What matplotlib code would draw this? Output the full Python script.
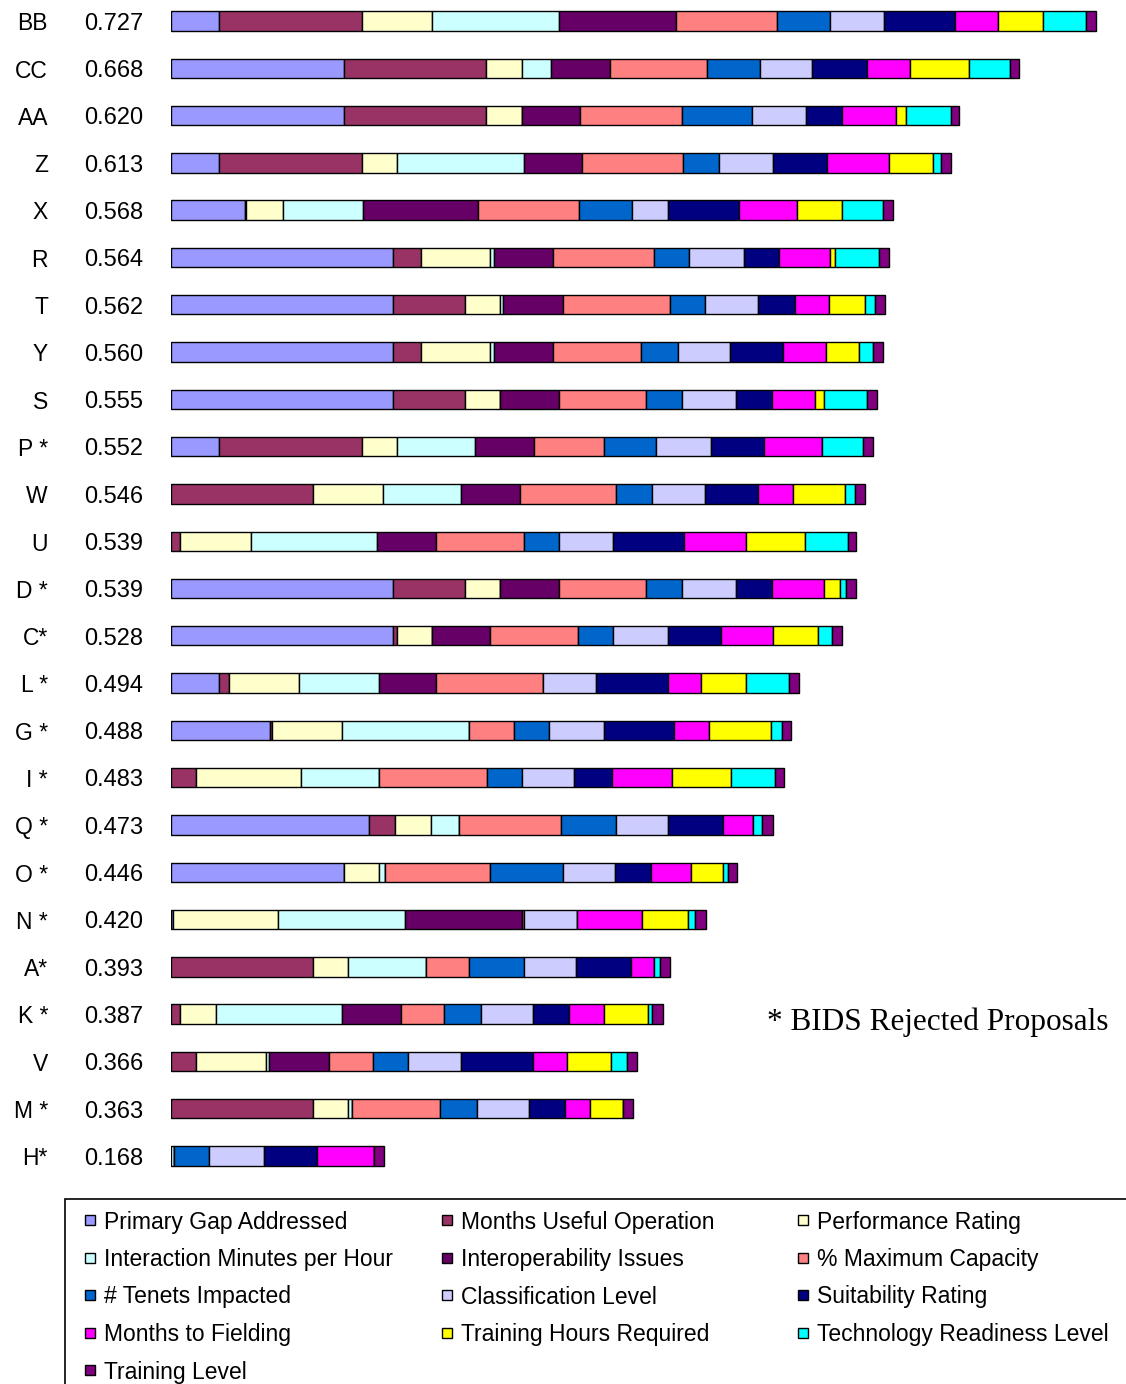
import matplotlib
matplotlib.use("Agg")
import matplotlib.pyplot as plt
import matplotlib.patches as mpatches
import matplotlib.transforms as mtransforms
import numpy as np

plt.rcParams['font.family'] = ['Liberation Sans', 'DejaVu Sans']

# proposals, top to bottom, with their overall scores
names = ["BB", "CC", "AA", "Z", "X", "R", "T", "Y", "S", "P *", "W", "U", "D *", "C*",
         "L *", "G *", "I *", "Q *", "O *", "N *", "A*", "K *", "V", "M *", "H*"]
totals = [0.727, 0.668, 0.620, 0.613, 0.568, 0.564, 0.562, 0.560, 0.555, 0.552, 0.546, 0.539,
          0.539, 0.528, 0.494, 0.488, 0.483, 0.473, 0.446, 0.420, 0.393, 0.387, 0.366, 0.363, 0.168]

# weighted contribution of each criterion
primary_gap = [0.038, 0.136, 0.136, 0.038, 0.058, 0.1748, 0.1748, 0.1748, 0.1748, 0.038, 0, 0, 0.1748,
               0.1748, 0.038, 0.0778, 0, 0.1559, 0.136, 0.0018, 0, 0, 0, 0, 0]
months_useful = [0.112, 0.112, 0.112, 0.112, 0.0008, 0.0215, 0.0564, 0.0215, 0.0564, 0.112, 0.1119, 0.0073,
                 0.0564, 0.0027, 0.0076, 0.0018, 0.0197, 0.0202, 0, 0, 0.1119, 0.0073, 0.0197, 0.1119, 0]
perf_rating = [0.0555, 0.0278, 0.0278, 0.0275, 0.0289, 0.0547, 0.0275, 0.0547, 0.0275, 0.0275, 0.055, 0.0553,
               0.0275, 0.0275, 0.0553, 0.0546, 0.0825, 0.0281, 0.0275, 0.0825, 0.0275, 0.0278, 0.055, 0.0275, 0]
interaction = [0.0996, 0.023, 0, 0.1001, 0.0629, 0.0027, 0.0026, 0.0027, 0, 0.0616, 0.0611, 0.0995, 0, 0,
               0.0627, 0.1001, 0.0613, 0.0225, 0.0047, 0.0996, 0.0611, 0.0991, 0.0026, 0.0027, 0.0024]
interop = [0.0917, 0.0461, 0.0461, 0.0458, 0.0906, 0.0469, 0.0467, 0.0469, 0.0464, 0.0464, 0.0464, 0.0459,
           0.0464, 0.0458, 0.0446, 0, 0, 0, 0, 0.0922, 0, 0.0466, 0.0469, 0, 0]
max_capacity = [0.0794, 0.0763, 0.0797, 0.0794, 0.0796, 0.0794, 0.0844, 0.0687, 0.0684, 0.0548, 0.0752, 0.0694,
                0.0684, 0.0694, 0.0846, 0.0354, 0.0847, 0.08, 0.0825, 0.0013, 0.0338, 0.0336, 0.0348, 0.0694, 0]
tenets = [0.0419, 0.0419, 0.055, 0.0278, 0.042, 0.0275, 0.0275, 0.0291, 0.0281, 0.0411, 0.0288, 0.0275,
          0.0281, 0.0275, 0, 0.0275, 0.0275, 0.043, 0.0572, 0, 0.0432, 0.0293, 0.0275, 0.0289, 0.0275]
classification = [0.0427, 0.0411, 0.0427, 0.0429, 0.0283, 0.043, 0.0414, 0.0411, 0.0427, 0.043, 0.0414, 0.0427,
                  0.0427, 0.0428, 0.0414, 0.043, 0.0414, 0.0414, 0.0411, 0.0417, 0.0409, 0.0411, 0.0414, 0.0411, 0.043]
suitability = [0.0553, 0.0432, 0.0281, 0.042, 0.0558, 0.0275, 0.0291, 0.0419, 0.0281, 0.0419, 0.0419, 0.0556,
               0.0281, 0.0419, 0.0568, 0.0555, 0.0294, 0.0428, 0.0281, 0, 0.0432, 0.0283, 0.0568, 0.0283, 0.0419]
months_fielding = [0.0338, 0.0336, 0.0427, 0.0487, 0.0456, 0.0401, 0.0267, 0.0336, 0.0335, 0.0458, 0.027, 0.049,
                   0.0411, 0.0411, 0.0257, 0.0273, 0.0472, 0.0233, 0.0317, 0.0513, 0.0181, 0.027, 0.0263, 0.0197, 0.045]
training_hours = [0.0354, 0.0461, 0.0079, 0.0351, 0.0354, 0.0042, 0.0285, 0.0262, 0.0074, 0, 0.0414, 0.0459,
                  0.0126, 0.0354, 0.0354, 0.049, 0.0464, 0, 0.0249, 0.0357, 0, 0.0351, 0.0348, 0.0262, 0]
trl = [0.0338, 0.0322, 0.0351, 0.0058, 0.0322, 0.0341, 0.0079, 0.0105, 0.034, 0.0322, 0.0079, 0.0338,
       0.0045, 0.011, 0.0338, 0.0082, 0.0351, 0.0076, 0.0044, 0.006, 0.0047, 0.0031, 0.0126, 0, 0]
training_level = [0.0079, 0.0075, 0.0065, 0.0079, 0.0079, 0.0081, 0.0079, 0.0081, 0.0079, 0.0079, 0.0079, 0.0065,
                  0.0081, 0.0079, 0.0081, 0.0075, 0.0066, 0.0081, 0.0066, 0.0082, 0.0079, 0.0082, 0.0079, 0.0075, 0.0079]

criteria = ["Primary Gap Addressed", "Months Useful Operation", "Performance Rating",
            "Interaction Minutes per Hour", "Interoperability Issues", "% Maximum Capacity",
            "# Tenets Impacted", "Classification Level", "Suitability Rating",
            "Months to Fielding", "Training Hours Required", "Technology Readiness Level",
            "Training Level"]
series = [primary_gap, months_useful, perf_rating, interaction, interop, max_capacity, tenets,
          classification, suitability, months_fielding, training_hours, trl, training_level]
colors = ['#9999FF', '#993366', '#FFFFCC', '#CCFFFF', '#660066', '#FF8080', '#0066CC',
          '#CCCCFF', '#000080', '#FF00FF', '#FFFF00', '#00FFFF', '#800080']

W, H = 1126, 1384
fig = plt.figure(figsize=(W / 100, H / 100), dpi=100)
fx = lambda px: px / W
fy = lambda py: 1 - py / H

ax = fig.add_axes([fx(171), fy(1180), fx(954), 1180 / H])
y = np.arange(len(names))
left = np.zeros(len(names))
for vals, col in zip(series, colors):
    vals = np.array(vals)
    ax.barh(y, vals, left=left, height=0.41, color=col, edgecolor='black', linewidth=1.0)
    left += vals
ax.set_xlim(0, 0.75)
ax.set_ylim(24.508, -0.444)
ax.axis('off')

# row labels: name and total score (nudged down a touch to sit like the original)
trans = mtransforms.blended_transform_factory(fig.transFigure, ax.transData)
for i, (n, t) in enumerate(zip(names, totals)):
    fig.text(fx(48), i + 0.06, n, transform=trans, ha='right', va='center', fontsize=16.5)
    fig.text(fx(143), i + 0.06, f"{t:.3f}", transform=trans, ha='right', va='center', fontsize=17)

fig.text(fx(767), fy(1022), "* BIDS Rejected Proposals", family=['Liberation Serif', 'DejaVu Serif'],
         fontsize=22.5, ha='left', va='center')

# legend box (runs off the right and bottom edge)
fig.add_artist(mpatches.Rectangle((fx(65), fy(1420)), fx(1100), (1420 - 1199) / H,
                                  transform=fig.transFigure, fill=False, edgecolor='black', linewidth=1.2))
col_x = [85, 442, 798]
row_y = [1220, 1257.5, 1295, 1332.5, 1370]
for k, (lab, col) in enumerate(zip(criteria, colors)):
    r, c = divmod(k, 3)
    xm, ym = col_x[c], row_y[r]
    fig.add_artist(mpatches.Rectangle((fx(xm), fy(ym + 5)), fx(10), 10 / H, transform=fig.transFigure,
                                      facecolor=col, edgecolor='black', linewidth=1.0))
    fig.text(fx(xm + 19), fy(ym + 2), lab, ha='left', va='center', fontsize=16.5)

fig.savefig("out.png", dpi=100)
